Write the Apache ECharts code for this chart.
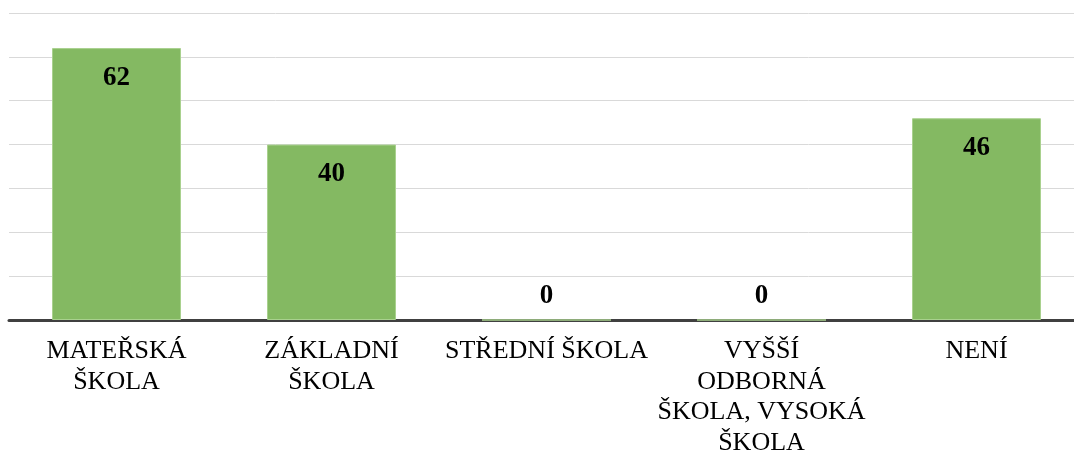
<!DOCTYPE html>
<html>
<head>
<meta charset="utf-8">
<script src="https://cdn.jsdelivr.net/npm/echarts@6/dist/echarts.min.js"></script>
<style>
  html, body { margin: 0; padding: 0; background: #fff; }
  #chart { width: 1074px; height: 455px; }
</style>
</head>
<body>
<div id="chart"></div>
<script>
// data
const categories = [
  "MATEŘSKÁ\nŠKOLA",
  "ZÁKLADNÍ\nŠKOLA",
  "STŘEDNÍ ŠKOLA",
  "VYŠŠÍ\nODBORNÁ\nŠKOLA, VYSOKÁ\nŠKOLA",
  "NENÍ"
];
const counts = [62, 40, 0, 0, 46];

const chart = echarts.init(document.getElementById("chart"));

// zero bars get their label above the axis, like the original
const barData = counts.map(function (v) {
  if (v === 0) {
    return { value: v, label: { position: "top", distance: 10 } };
  }
  return v;
});

chart.setOption({
  animation: false,
  grid: {
    left: 9,
    width: 1075,
    top: 13,
    bottom: 135,
    containLabel: false,
    outerBoundsMode: "none"
  },
  xAxis: {
    type: "category",
    data: categories,
    axisLine: { lineStyle: { color: "#404040", width: 3 } },
    axisTick: { show: false },
    axisLabel: {
      interval: 0,
      margin: 16,
      fontFamily: "Liberation Serif",
      fontSize: 26,
      lineHeight: 30.5,
      color: "#000"
    }
  },
  yAxis: {
    type: "value",
    min: 0,
    max: 70,
    interval: 10,
    axisLabel: { show: false },
    axisLine: { show: false },
    axisTick: { show: false },
    splitLine: { lineStyle: { color: "#d9d9d9", width: 1 } }
  },
  series: [
    {
      type: "bar",
      data: barData,
      barWidth: "60%",
      itemStyle: {
        color: "#84b962",
        borderColor: "#a9d18e",
        borderWidth: 1
      },
      label: {
        show: true,
        position: "insideTop",
        distance: 16,
        fontFamily: "Liberation Serif",
        fontWeight: "bold",
        fontSize: 27,
        color: "#000"
      }
    }
  ]
});
</script>
</body>
</html>
